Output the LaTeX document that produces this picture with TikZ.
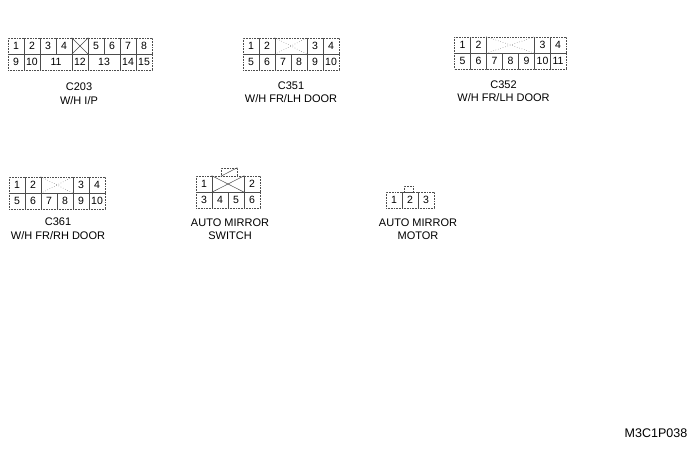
\documentclass[tikz,border=0pt]{standalone}
\usepackage{fontspec}
\setmainfont{Liberation Sans}
\tikzset{
  cell/.style={draw=black!70,densely dotted,line width=0.6pt,minimum width=16pt,minimum height=16pt,inner sep=0pt,font=\fontsize{10.5}{12}\selectfont,text=black},
  tag/.style={align=center,inner sep=0pt,font=\fontsize{11}{13.5}\selectfont},
  crossd/.style={black!70,line width=0.5pt},
  crossl/.style={black!60,line width=0.5pt,dotted}
}
\begin{document}
\begin{tikzpicture}[x=1pt,y=-1pt]
  \useasboundingbox (0,0) rectangle (700,452);
  % C203
  \foreach \n/\x in {1/16,2/32,3/48,4/64,5/96,6/112,7/128,8/144,9/16,10/32,12/80,14/128,15/144}
    \node[cell] (a\n) at (\x,{\n<9 ? 46 : 62}) {\n};
  \node[cell,minimum width=32pt] (a11) at (56,62) {11};
  \node[cell,minimum width=32pt] (a13) at (104,62) {13};
  \node[cell] (ax) at (80,46) {};
  \draw[crossd] (ax.north west) -- (ax.south east);
  \draw[crossd] (ax.south west) -- (ax.north east);
  \node[tag] (atag) at (79,93.5) {C203\\W/H I/P};
  % C351
  \foreach \n/\x in {1/251,2/267,3/315,4/331}
    \node[cell] (b\n) at (\x,46) {\n};
  \foreach \n/\x in {5/251,6/267,7/283,8/299,9/315,10/331}
    \node[cell] (b\n) at (\x,62) {\n};
  \node[cell,minimum width=32pt] (bx) at (291,46) {};
  \draw[crossl] (bx.north west) -- (bx.south east);
  \draw[crossl] (bx.south west) -- (bx.north east);
  \node[tag] (btag) at (291,92) {C351\\W/H FR/LH DOOR};
  % C352
  \foreach \n/\x in {1/462.5,2/478.5,3/542.5,4/558}
    \node[cell] (c\n) at (\x,45) {\n};
  \foreach \n/\x in {5/462.5,6/478.5,7/494.5,8/510.5,9/526.5,10/542.5,11/558}
    \node[cell] (c\n) at (\x,61) {\n};
  \node[cell,minimum width=48pt] (cx) at (510.5,45) {};
  \draw[crossl] (cx.north west) -- (cx.south east);
  \draw[crossl] (cx.south west) -- (cx.north east);
  \node[tag] (ctag) at (503.5,91) {C352\\W/H FR/LH DOOR};
  % C361
  \foreach \n/\x in {1/17,2/33,3/81,4/97}
    \node[cell] (d\n) at (\x,185) {\n};
  \foreach \n/\x in {5/17,6/33,7/49,8/65,9/81,10/97}
    \node[cell] (d\n) at (\x,201) {\n};
  \node[cell,minimum width=32pt] (dx) at (57,185) {};
  \draw[crossl] (dx.north west) -- (dx.south east);
  \draw[crossl] (dx.south west) -- (dx.north east);
  \node[tag] (dtag) at (58,228.5) {C361\\W/H FR/RH DOOR};
  % switch
  \node[cell] (e1) at (204,184) {1};
  \node[cell] (e2) at (252,184) {2};
  \foreach \n/\x in {3/204,4/220,5/236,6/252}
    \node[cell] (e\n) at (\x,200) {\n};
  \node[cell,minimum width=32pt] (ex) at (228,184) {};
  \draw[crossd] (ex.north west) -- (ex.south east);
  \draw[crossd] (ex.south west) -- (ex.north east);
  \node[cell,minimum height=8pt] (etab) at (229,172) {};
  \draw[crossd] (etab.south west) -- (etab.north east);
  \node[tag] (etag) at (230,229) {AUTO MIRROR\\SWITCH};
  % motor
  \foreach \n/\x in {1/394,2/410,3/426}
    \node[cell] (f\n) at (\x,200) {\n};
  \node[cell,minimum width=9pt,minimum height=6pt] (ftab) at (408.5,189) {};
  \node[tag] (ftag) at (418,229) {AUTO MIRROR\\MOTOR};
  % drawing number
  \node[tag,font=\fontsize{12.5}{14}\selectfont] (code) at (656,433) {M3C1P038};
\end{tikzpicture}
\end{document}
